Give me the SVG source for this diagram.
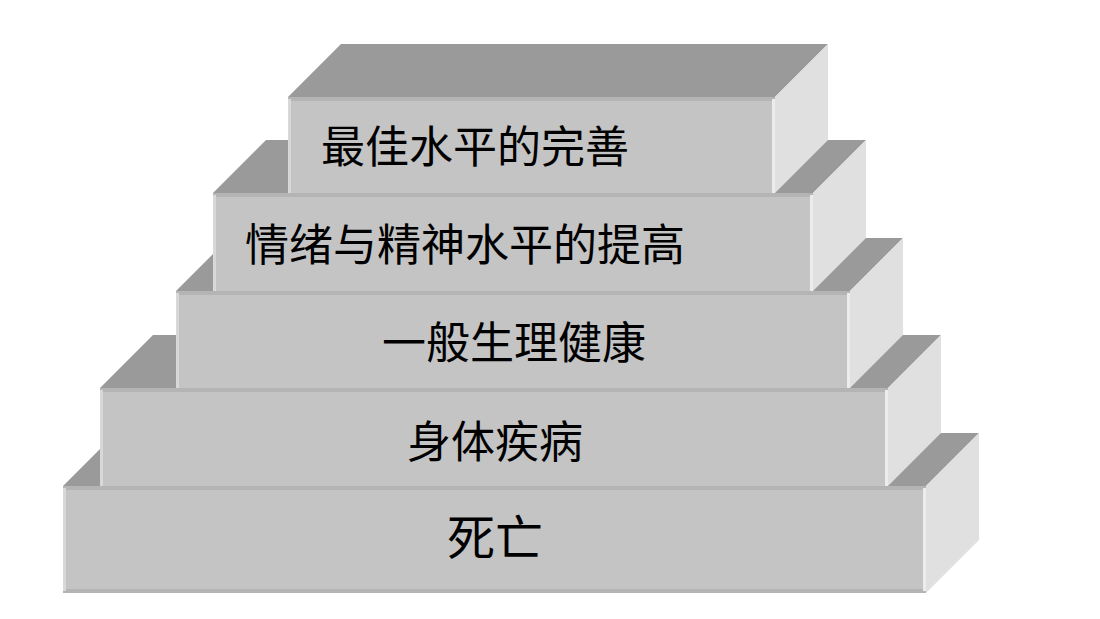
<svg xmlns="http://www.w3.org/2000/svg" width="1100" height="619" viewBox="0 0 1100 619">
<style>
.top{fill:#9a9a9a}
.side{fill:#e0e0e0}
.front{fill:#c4c4c4}
.dk{fill:#b4b4b4}
.lt{fill:#d8d8d8}
.rt{fill:#ececec}
.lbl{font-family:"Noto Sans CJK SC","Noto Sans CJK JP",sans-serif;font-size:44px;fill:#000;text-anchor:middle}
</style>
<rect width="1100" height="619" fill="#ffffff"/>
<g id="level1">
<polygon class="top" points="63,486 116,433 979,433 926,486"/>
<polygon class="side" points="926,486 979,433 979,540 926,593"/>
<rect class="front" x="63" y="486" width="863" height="107"/>
<rect class="dk" x="63" y="486" width="863" height="4"/>
<rect class="dk" x="63" y="589" width="863" height="4"/>
<rect class="lt" x="63" y="488" width="3" height="103"/>
<rect class="rt" x="923" y="488" width="3" height="103"/>
<text class="lbl" x="495" y="555" style="font-size:48px">死亡</text>
</g>
<g id="level2">
<polygon class="top" points="100,388 153,335 941,335 888,388"/>
<polygon class="side" points="888,388 941,335 941,433 888,486"/>
<rect class="front" x="100" y="388" width="788" height="98"/>
<rect class="dk" x="100" y="388" width="788" height="4"/>
<rect class="lt" x="100" y="390" width="3" height="96"/>
<rect class="rt" x="885" y="390" width="3" height="96"/>
<text class="lbl" x="495" y="458">身体疾病</text>
</g>
<g id="level3">
<polygon class="top" points="176,291 229,238 903,238 850,291"/>
<polygon class="side" points="850,291 903,238 903,335 850,388"/>
<rect class="front" x="176" y="291" width="674" height="97"/>
<rect class="dk" x="176" y="291" width="674" height="4"/>
<rect class="lt" x="176" y="293" width="3" height="95"/>
<rect class="rt" x="847" y="293" width="3" height="95"/>
<text class="lbl" x="514" y="359">一般生理健康</text>
</g>
<g id="level4">
<polygon class="top" points="213,193 266,140 866,140 813,193"/>
<polygon class="side" points="813,193 866,140 866,238 813,291"/>
<rect class="front" x="213" y="193" width="600" height="98"/>
<rect class="dk" x="213" y="193" width="600" height="4"/>
<rect class="lt" x="213" y="195" width="3" height="96"/>
<rect class="rt" x="810" y="195" width="3" height="96"/>
<text class="lbl" x="465" y="261">情绪与精神水平的提高</text>
</g>
<g id="level5">
<polygon class="top" points="288,97 341,44 828,44 775,97"/>
<polygon class="side" points="775,97 828,44 828,140 775,193"/>
<rect class="front" x="288" y="97" width="487" height="96"/>
<rect class="dk" x="288" y="97" width="487" height="4"/>
<rect class="lt" x="288" y="99" width="3" height="94"/>
<rect class="rt" x="772" y="99" width="3" height="94"/>
<text class="lbl" x="475" y="163">最佳水平的完善</text>
</g>
<g id="connectors"></g>
</svg>
